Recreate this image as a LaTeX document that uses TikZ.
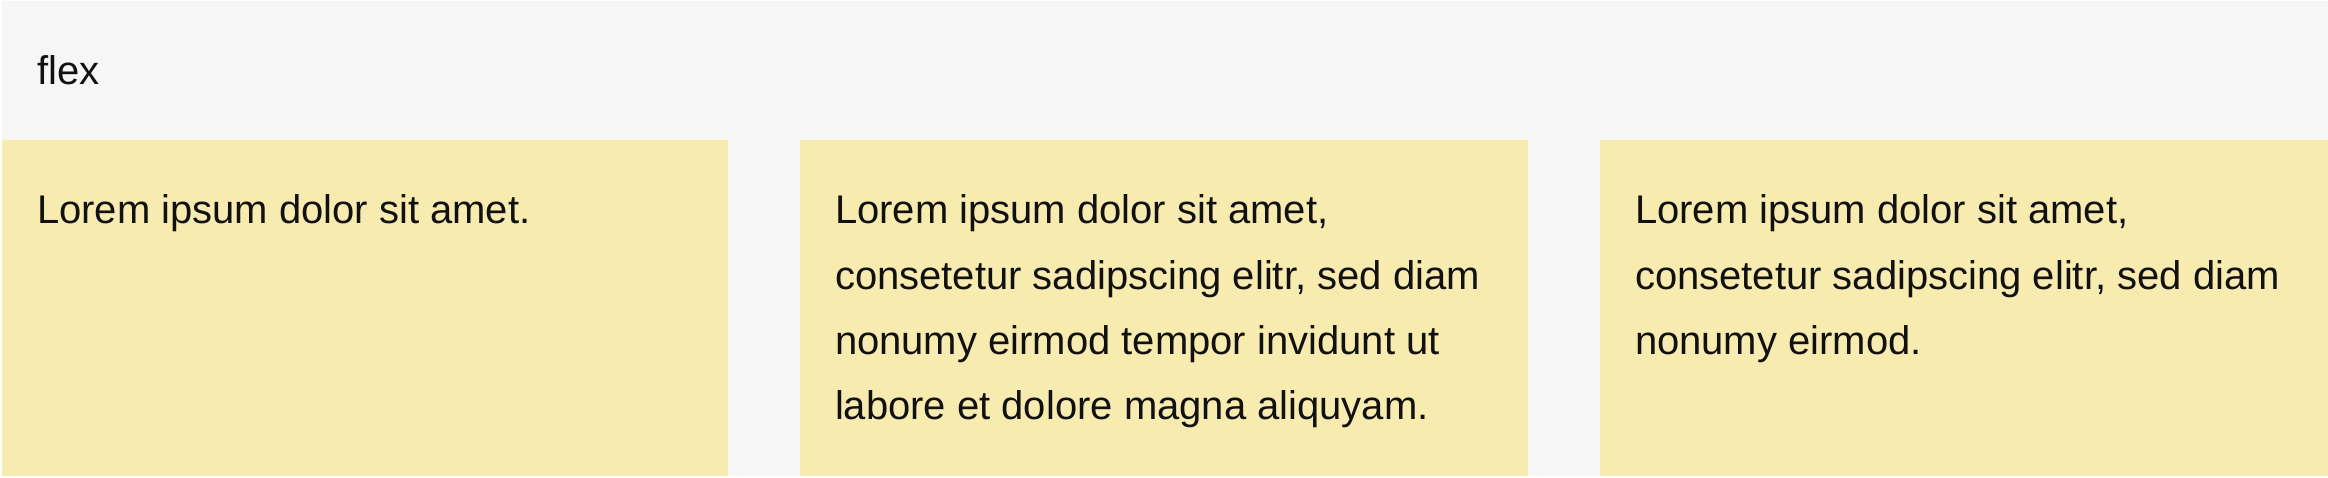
\documentclass[tikz,border=0pt]{standalone}
\usepackage{fontspec}
\setmainfont{Liberation Sans}
\definecolor{graybg}{HTML}{F6F6F6}
\definecolor{flexyellow}{HTML}{F8EBB0}
\definecolor{ink}{HTML}{111111}
\tikzset{
  txt/.style={anchor=base west, inner sep=0pt, outer sep=0pt, text=ink, font=\fontsize{40}{65}\selectfont},
  itembox/.style={fill=flexyellow}
}
\begin{document}
\begin{tikzpicture}[x=1pt,y=-1pt]
\useasboundingbox (0,0) rectangle (2328,478);
\fill[white] (0,0) rectangle (2328,478);
\fill[graybg] (2,1) rectangle (2328,476);
% items
\fill[itembox] (2,140) rectangle (728,476);
\fill[itembox] (800,140) rectangle (1528,476);
\fill[itembox] (1600,140) rectangle (2328,476);
% header
\node[txt] (flex) at (37,85) {flex};
% item 1
\node[txt] (a1) at (37,224) {Lorem ipsum dolor sit amet.};
% item 2
\node[txt] (b1) at (835,224) {Lorem ipsum dolor sit amet,};
\node[txt] (b2) at (835,289) {consetetur sadipscing elitr, sed diam};
\node[txt] (b3) at (835,354) {nonumy eirmod tempor invidunt ut};
\node[txt] (b4) at (835,419) {labore et dolore magna aliquyam.};
% item 3
\node[txt] (c1) at (1635,224) {Lorem ipsum dolor sit amet,};
\node[txt] (c2) at (1635,289) {consetetur sadipscing elitr, sed diam};
\node[txt] (c3) at (1635,354) {nonumy eirmod.};
\end{tikzpicture}
\end{document}
